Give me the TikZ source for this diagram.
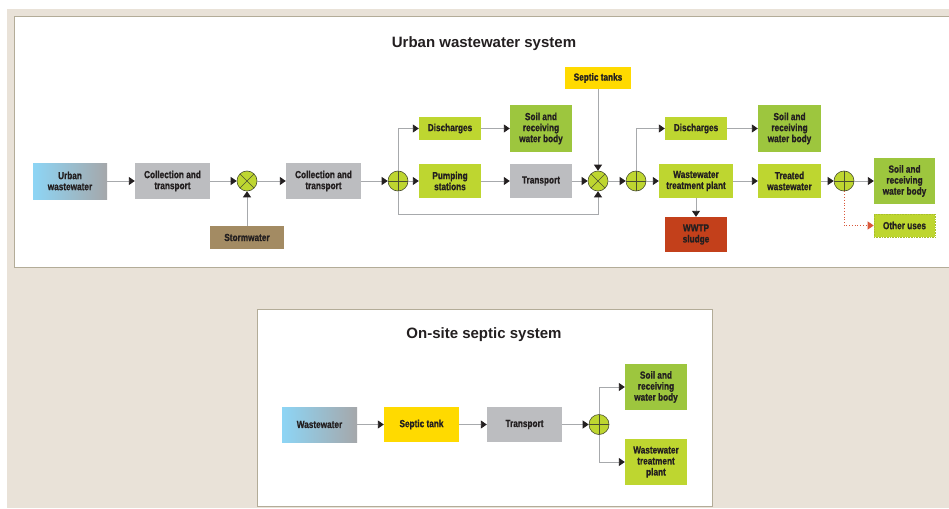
\documentclass[tikz,border=0pt]{standalone}
\usepackage{fontspec}
\newfontfamily\cond{Liberation Sans}[FakeStretch=0.8, BoldFeatures={FakeBold=0.8}]
\newfontfamily\ttlfont{Liberation Sans}
\usetikzlibrary{arrows.meta}
\definecolor{beige}{HTML}{E9E2D8}
\definecolor{panelline}{HTML}{B3AC98}
\definecolor{lime}{HTML}{BED630}
\definecolor{soilgreen}{HTML}{9DC63E}
\definecolor{boxgray}{HTML}{BCBDC0}
\definecolor{sepyellow}{HTML}{FFDA00}
\definecolor{stormbrown}{HTML}{A38B63}
\definecolor{sludgered}{HTML}{C3401B}
\definecolor{ublue}{HTML}{8DD5F5}
\definecolor{ugray}{HTML}{A5A7AA}
\definecolor{txt}{HTML}{231F20}
\definecolor{conn}{HTML}{A7A9AC}
\definecolor{circline}{HTML}{4A4F30}
\definecolor{redline}{HTML}{D9573A}
\definecolor{dotline}{HTML}{A9BF2A}
\tikzset{
  box/.style={rectangle, inner sep=0pt, align=center, text=txt,
    font=\cond\bfseries\fontsize{10.3}{11}\selectfont},
  gbox/.style={box, fill=lime},
  soilbox/.style={box, fill=soilgreen},
  graybox/.style={box, fill=boxgray},
  gradbox/.style={box, left color=ublue, right color=ugray},
  ttl/.style={font=\ttlfont\bfseries\fontsize{15}{18}\selectfont, text=txt},
  sumbase/.style={circle, draw=circline, line width=0.6pt, fill=lime, minimum size=20pt, inner sep=0pt},
  crossnode/.style={sumbase, path picture={
      \draw[circline, line width=0.6pt] (path picture bounding box.north west) -- (path picture bounding box.south east)
        (path picture bounding box.north east) -- (path picture bounding box.south west);}},
  plusnode/.style={sumbase, path picture={
      \draw[circline, line width=0.6pt] (path picture bounding box.north) -- (path picture bounding box.south)
        (path picture bounding box.west) -- (path picture bounding box.east);}},
  arr/.style={draw=conn, line width=0.9pt, -{Triangle[length=6pt, width=8pt, color=txt]}},
  redarr/.style={draw=redline, line width=0.8pt, dotted, -{Triangle[length=6pt, width=8pt, color=redline]}},
}
\begin{document}
\begin{tikzpicture}[x=1pt, y=-1pt]
\useasboundingbox (0,0) rectangle (949,508);
\fill[white] (0,0) rectangle (949,508);
\fill[beige] (7,9) rectangle (949,508);
% panels
\draw[panelline, line width=1pt, fill=white] (14,17) rectangle (960,267);
\draw[panelline, line width=1pt, fill=white] (257,309) rectangle (712,506);

% titles
\node[ttl] (t1) at (484,44) {Urban wastewater system};
\node[ttl] (t2) at (484,335) {On-site septic system};

% ---------- Urban system ----------
\node[gradbox, minimum width=74pt, minimum height=36pt] (uw) at (70,181) {Urban\\wastewater};
\node[graybox, minimum width=75pt, minimum height=36pt] (ct1) at (172.5,181) {Collection and\\transport};
\node[crossnode] (x1) at (247,181) {};
\node[box, fill=stormbrown, minimum width=74pt, minimum height=23pt] (sw) at (247,237.5) {Stormwater};
\node[graybox, minimum width=75pt, minimum height=36pt] (ct2) at (323.5,181) {Collection and\\transport};
\node[plusnode] (p1) at (398,181) {};
\node[gbox, minimum width=62pt, minimum height=23pt] (dis1) at (450,128.5) {Discharges};
\node[soilbox, minimum width=62pt, minimum height=46pt] (soil1) at (541,128.5) {Soil and\\receiving\\water body};
\node[gbox, minimum width=62pt, minimum height=34pt] (pump) at (450,181) {Pumping\\stations};
\node[graybox, minimum width=62pt, minimum height=34pt] (tr) at (541,181) {Transport};
\node[crossnode] (x2) at (598,181) {};
\node[box, fill=sepyellow, minimum width=66pt, minimum height=22pt] (sep) at (598,78) {Septic tanks};
\node[plusnode] (p2) at (636,181) {};
\node[gbox, minimum width=62pt, minimum height=23pt] (dis2) at (696,128.5) {Discharges};
\node[soilbox, minimum width=63pt, minimum height=47pt] (soil2) at (789.5,128.5) {Soil and\\receiving\\water body};
\node[gbox, minimum width=74pt, minimum height=34pt] (wwtp) at (696,181) {Wastewater\\treatment plant};
\node[box, fill=sludgered, minimum width=62pt, minimum height=35pt] (sludge) at (696,234.5) {WWTP\\sludge};
\node[gbox, minimum width=63pt, minimum height=34pt] (treated) at (789.5,181) {Treated\\wastewater};
\node[plusnode] (p3) at (844,181) {};
\node[soilbox, minimum width=61pt, minimum height=46pt] (soil3) at (904.5,181) {Soil and\\receiving\\water body};
\node[gbox, draw=dotline, line width=0.6pt, densely dotted, minimum width=61pt, minimum height=23pt] (other) at (904.5,225.5) {Other uses};

\draw[arr] (uw) -- (ct1);
\draw[arr] (ct1) -- (x1);
\draw[arr] (sw) -- (x1);
\draw[arr] (x1) -- (ct2);
\draw[arr] (ct2) -- (p1);
\draw[arr] (p1.north) |- (dis1.west);
\draw[arr] (p1) -- (pump);
\draw[arr] (p1.south) -- ++(0,23) -| (x2.south);
\draw[arr] (dis1) -- (soil1);
\draw[arr] (pump) -- (tr);
\draw[arr] (tr) -- (x2);
\draw[arr] (sep) -- (x2);
\draw[arr] (x2) -- (p2);
\draw[arr] (p2.north) |- (dis2.west);
\draw[arr] (p2) -- (wwtp);
\draw[arr] (dis2) -- (soil2);
\draw[arr] (wwtp) -- (sludge);
\draw[arr] (wwtp) -- (treated);
\draw[arr] (treated) -- (p3);
\draw[arr] (p3) -- (soil3);
\draw[redarr] (p3.south) |- (other.west);

% ---------- On-site system ----------
\node[gradbox, minimum width=75pt, minimum height=35pt] (ww) at (319.5,424.5) {Wastewater};
\node[box, fill=sepyellow, minimum width=75pt, minimum height=35pt] (st) at (421.5,424.5) {Septic tank};
\node[graybox, minimum width=75pt, minimum height=35pt] (tr2) at (524.5,424.5) {Transport};
\node[plusnode] (p4) at (599,424.5) {};
\node[soilbox, minimum width=62pt, minimum height=46pt] (soil4) at (656,387) {Soil and\\receiving\\water body};
\node[gbox, minimum width=62pt, minimum height=46pt] (wwtp2) at (656,462) {Wastewater\\treatment\\plant};

\draw[arr] (ww) -- (st);
\draw[arr] (st) -- (tr2);
\draw[arr] (tr2) -- (p4);
\draw[arr] (p4.north) |- (soil4.west);
\draw[arr] (p4.south) |- (wwtp2.west);
\end{tikzpicture}
\end{document}
